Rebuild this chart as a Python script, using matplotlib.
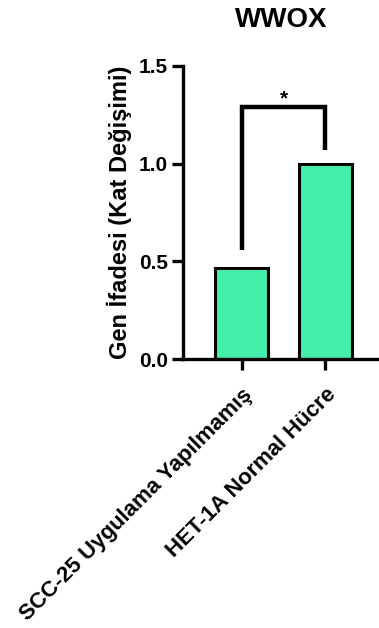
import matplotlib
matplotlib.use("Agg")
import matplotlib.pyplot as plt

plt.rcParams["font.family"] = ["Liberation Sans", "DejaVu Sans"]
plt.rcParams["font.weight"] = "bold"

groups = ["SCC-25 Uygulama Yapılmamış", "HET-1A Normal Hücre"]
values = [0.466, 1.0]
bracket_top = 1.29
bracket_legs = [0.56, 1.07]
bar_color = "#44EEAA"

fig = plt.figure(figsize=(3.79, 6.28), dpi=100)
ax = fig.add_axes([0.483, 0.428, 0.517, 0.467])

x = list(range(len(groups)))
ax.bar(x, values, width=0.64, color=bar_color, edgecolor="black", linewidth=2.2, zorder=2)

# significance bracket
ax.plot([x[0], x[0], x[1], x[1]],
        [bracket_legs[0], bracket_top, bracket_top, bracket_legs[1]],
        color="black", lw=3.2, solid_joinstyle="miter", solid_capstyle="butt", clip_on=False)
ax.text((x[0] + x[1]) / 2, bracket_top - 0.005, "*", ha="center", va="bottom",
        fontsize=15, fontweight="bold")

ax.set_xlim(-0.70, 1.64)
ax.set_ylim(0, 1.5)
ax.set_yticks([0.0, 0.5, 1.0, 1.5])
ax.set_yticklabels(["0.0", "0.5", "1.0", "1.5"])
ax.set_xticks(x)
ax.set_xticklabels(groups, rotation=45, ha="right", rotation_mode="anchor")

for side in ["top", "right"]:
    ax.spines[side].set_visible(False)
for side in ["left", "bottom"]:
    ax.spines[side].set_linewidth(2.4)

ax.tick_params(axis="both", width=2.4, length=8, labelsize=15, pad=3)
ax.tick_params(axis="x", labelsize=16, pad=10)

ax.set_ylabel("Gen İfadesi (Kat Değişimi)", fontsize=17, fontweight="bold", labelpad=5)
ax.set_title("WWOX", fontsize=20, fontweight="bold", pad=28)

fig.savefig("out.png", dpi=100)
